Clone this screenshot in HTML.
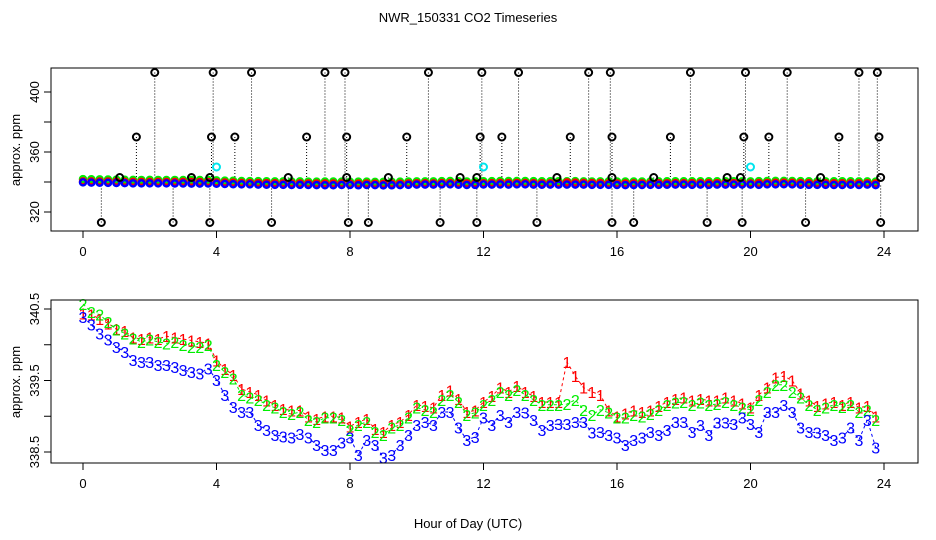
<!DOCTYPE html>
<html><head><meta charset="utf-8"><style>
body{margin:0;background:#fff}
svg{display:block;font-family:"Liberation Sans",sans-serif}
</style></head><body>
<svg id="chart" width="936" height="540" xmlns="http://www.w3.org/2000/svg">
<rect width="936" height="540" fill="#fff"/>
<text x="468" y="22" font-size="13" text-anchor="middle">NWR_150331  CO2 Timeseries</text>
<g id="topg"></g><g id="botg"></g><g id="axesg"></g>
<rect x="51" y="68" width="867" height="163" fill="none" stroke="#000"/>
<rect x="51" y="300" width="867" height="163" fill="none" stroke="#000"/>
<text transform="translate(20,150) rotate(-90)" font-size="13" text-anchor="middle">approx. ppm</text>
<text transform="translate(20,382) rotate(-90)" font-size="13" text-anchor="middle">approx. ppm</text>
<text x="468" y="528" font-size="13" text-anchor="middle">Hour of Day (UTC)</text>
</svg>
<script>
const xTicks=[0,4,8,12,16,20,24];
const topYTicks=[320,340,360,380,400];
const topYLabels=["320","","360","","400"];
const botYTicks=[338.5,339.0,339.5,340.0,340.5];
const botYLabels=["338.5","","339.5","","340.5"];
const series1=[340.44,340.42,340.36,340.30,340.22,340.19,340.10,340.08,340.10,340.08,340.12,340.10,340.08,340.06,340.04,340.02,339.78,339.66,339.58,339.38,339.34,339.30,339.22,339.16,339.10,339.08,339.08,339.00,338.96,339.00,339.00,338.98,338.86,338.92,338.96,338.82,338.78,338.88,338.92,339.02,339.16,339.14,339.12,339.30,339.36,339.24,339.06,339.08,339.20,339.28,339.40,339.34,339.42,339.34,339.28,339.20,339.20,339.20,339.76,339.56,339.40,339.34,339.30,339.08,339.00,339.04,339.08,339.06,339.08,339.14,339.20,339.24,339.26,339.22,339.24,339.22,339.22,339.26,339.22,339.18,339.12,339.30,339.40,339.54,339.56,339.50,339.32,339.22,339.14,339.18,339.20,339.16,339.20,339.12,339.14,339.00];
const series2=[340.57,340.46,340.42,340.32,340.21,340.16,340.09,340.04,340.07,340.04,340.02,340.04,340.00,339.97,339.97,340.00,339.72,339.62,339.53,339.30,339.26,339.23,339.16,339.12,339.06,339.03,339.06,338.95,338.92,338.98,338.98,338.95,338.81,338.88,338.92,338.78,338.74,338.84,338.88,338.98,339.12,339.09,339.06,339.23,339.30,339.20,339.02,339.05,339.16,339.23,339.34,339.30,339.37,339.30,339.23,339.16,339.16,339.16,339.17,339.23,339.09,339.02,339.09,339.05,338.98,338.98,339.02,339.00,339.03,339.09,339.16,339.19,339.20,339.16,339.19,339.16,339.17,339.20,339.16,339.12,339.09,339.23,339.34,339.44,339.44,339.34,339.26,339.16,339.09,339.12,339.16,339.13,339.16,339.06,339.09,338.95];
const series3=[340.39,340.28,340.16,340.07,339.97,339.90,339.79,339.76,339.76,339.72,339.72,339.69,339.65,339.62,339.60,339.67,339.51,339.30,339.13,339.06,339.06,338.88,338.81,338.74,338.72,338.70,338.75,338.70,338.60,338.53,338.53,338.63,338.70,338.46,338.67,338.60,338.42,338.46,338.60,338.74,338.88,338.92,338.88,339.06,339.06,338.84,338.67,338.71,338.98,338.88,339.02,338.92,339.06,339.05,338.95,338.81,338.88,338.89,338.89,338.92,338.92,338.77,338.78,338.74,338.70,338.60,338.67,338.70,338.78,338.74,338.81,338.92,338.92,338.78,338.88,338.74,338.91,338.91,338.89,338.98,338.89,338.78,339.06,339.06,339.16,339.06,338.84,338.78,338.77,338.74,338.67,338.70,338.84,338.67,338.95,338.56];
const outlierHours=[2.15,3.9,5.05,7.25,7.85,10.35,11.95,13.05,15.15,15.8,18.2,19.85,21.1,23.25,23.8,1.6,3.85,4.55,6.7,7.9,9.7,11.9,12.55,14.6,15.85,17.6,19.8,20.55,22.65,23.85,1.1,3.25,3.8,6.15,7.9,9.15,11.3,11.8,14.2,15.85,17.1,19.3,19.7,22.1,23.9,0.55,2.7,3.8,5.65,7.95,8.55,10.7,11.8,13.6,15.85,16.5,18.7,19.75,21.65,23.9];
const outlierValues=[413,413,413,413,413,413,413,413,413,413,413,413,413,413,413,370,370,370,370,370,370,370,370,370,370,370,370,370,370,370,343,343,343,343,343,343,343,343,343,343,343,343,343,343,343,313,313,313,313,313,313,313,313,313,313,313,313,313,313,313];
const calHours=[4.0,12.0,20.0];
const calValues=[350,350,350];

const NS="http://www.w3.org/2000/svg";
const X=h=>83+h*(884-83)/24;
const YT=v=>182-(v-340)*1.5;
const YB=v=>309+(340.5-v)*71.5;
const hourAt=i=>i*0.25;
function mk(tag,attrs,parent){const e=document.createElementNS(NS,tag);for(const k in attrs)e.setAttribute(k,attrs[k]);parent.appendChild(e);return e;}
const gTop=document.getElementById('topg'),gBot=document.getElementById('botg'),gAx=document.getElementById('axesg');
const cols=['#ff0000','#00ee00','#0000ff'];
const allSeries=[series1,series2,series3];

outlierHours.forEach((h,i)=>{
  const v=outlierValues[i];
  const l=mk('line',{x1:X(h),x2:X(h),y1:YT(v),y2:YT(339),stroke:'#000','stroke-width':1,'stroke-dasharray':'1,2'},gTop);
  
  
});
[1,0,2].forEach(s=>{
  allSeries[s].forEach((v,i)=>{
    const c=mk('circle',{cx:X(hourAt(i)),cy:YT(v)+(s==1?-2:(s==2?1:0)),r:3,fill:'none',stroke:cols[s],'stroke-width':2.5},gTop);
    
    
  });
});
outlierHours.forEach((h,i)=>{
  const c=mk('circle',{cx:X(h),cy:YT(outlierValues[i]),r:3.5,fill:'none',stroke:'#000','stroke-width':2},gTop);
  
  
});
calHours.forEach((h,i)=>{
  const c=mk('circle',{cx:X(h),cy:YT(calValues[i]),r:3.5,fill:'none',stroke:'#00e5ee','stroke-width':2},gTop);
  
  
});
allSeries.forEach((arr,s)=>{
  let d='';arr.forEach((v,i)=>{d+=(i?'L':'M')+X(hourAt(i)).toFixed(1)+','+YB(v).toFixed(1);});
  const p=mk('path',{d:d,fill:'none',stroke:cols[s],'stroke-width':1,'stroke-dasharray':'3,3'},gBot);
  
  
});
allSeries.forEach((arr,s)=>{
  arr.forEach((v,i)=>{
    const t=mk('text',{x:X(hourAt(i)),y:YB(v)+6,'font-size':16,fill:cols[s],'text-anchor':'middle'},gBot);
    t.textContent=String(s+1);
    
    
  });
});
[[231,251],[463,483]].forEach(([yb,yl])=>{
  xTicks.forEach(h=>{
    mk('line',{x1:X(h),x2:X(h),y1:yb,y2:yb+7,stroke:'#000'},gAx);
    const t=mk('text',{x:X(h),y:yl+5,'font-size':13,'text-anchor':'middle'},gAx);
    t.textContent=h;
    
    
  });
});
topYTicks.forEach((v,i)=>{
  mk('line',{x1:44,x2:51,y1:YT(v),y2:YT(v),stroke:'#000'},gAx);
  if(topYLabels[i]){const t=mk('text',{transform:`translate(39,${YT(v)}) rotate(-90)`,'font-size':13,'text-anchor':'middle'},gAx);
  t.textContent=topYLabels[i];
  
  }
});
botYTicks.forEach((v,i)=>{
  mk('line',{x1:44,x2:51,y1:YB(v),y2:YB(v),stroke:'#000'},gAx);
  if(botYLabels[i]){const t=mk('text',{transform:`translate(39,${YB(v)}) rotate(-90)`,'font-size':13,'text-anchor':'middle'},gAx);
  t.textContent=botYLabels[i];
  
  }
});
</script>
</body></html>
